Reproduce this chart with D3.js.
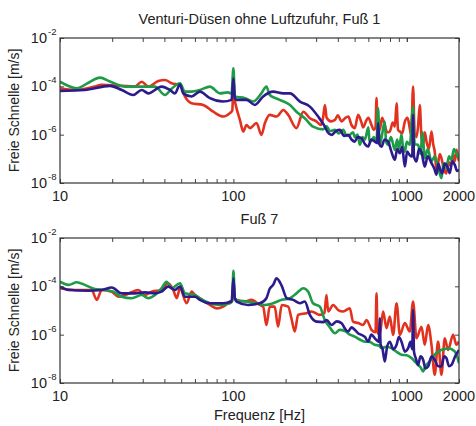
<!DOCTYPE html>
<html>
<head>
<meta charset="utf-8">
<script src="https://cdn.jsdelivr.net/npm/d3@7"></script>
<style>
  html, body { margin: 0; padding: 0; background: #fff; }
  svg { display: block; }
  text { font-family: "Liberation Sans", Arial, sans-serif; fill: #222; }
</style>
</head>
<body>
<svg id="chart" width="476" height="426"></svg>
<script>
// Free vibration velocity spectra, Venturi nozzles without air supply.
// Levels are stored as log10 of the velocity in m/s.

// ---------- Fuß 1 ----------
const f1GreenFreq = [10,12.5,14.6,17,19.4,23.7,30,35.3,40.3,44,49.2,52.5,56.1,64.1,73.2,83.6,92.9,97.6,100,102,116.5,130,145,155,162,185,212,231,258,288,329,345,360,385,405,430,450,469,490,501,520,536,555,573,600,610,626,645,669,683,698,720,746,760,780,810,853,880,900,932,950,974,1000,1040,1087,1110,1161,1200,1230,1270,1320,1388,1450,1515,1584,1630,1692,1750,1810,1870,1934,2000];
const f1GreenLog  = [-3.81,-4.08,-3.85,-3.64,-3.8,-4.01,-4.01,-4.01,-4.36,-4.1,-3.87,-4.22,-4.22,-4.15,-4.01,-4.29,-4.25,-4.3,-3.25,-4.42,-4.49,-4.63,-4.29,-4.01,-4.36,-4.56,-4.77,-5.05,-5.32,-5.67,-5.78,-5.65,-5.85,-5.8,-5.95,-5.8,-6.05,-6.01,-5.9,-6.1,-6.0,-6.42,-6.1,-6.2,-5.7,-6.3,-6.25,-6.1,-6.3,-4.91,-6.42,-6.0,-5.46,-6.3,-6.42,-6.1,-6.63,-6.2,-6.6,-6.0,-6.5,-6.7,-6.3,-6.42,-4.85,-6.4,-6.42,-6.8,-5.9,-6.97,-6.6,-7.1,-6.9,-7.32,-7.8,-7.2,-7.4,-6.9,-7.04,-6.6,-6.77,-6.97];

const f1RedFreq = [10,12.2,15.9,17.4,22.7,27,29.6,32.3,36.9,40.3,44,49.2,52.5,57.4,67,76.5,87.3,95.4,98.5,100,102,104.3,109,114,119,124.5,136,145,152,162,177.5,194,207,231,253,276,302,320,329,337,345,365,385,400,420,440,460,480,501,524,548,560,586,600,626,645,660,669,678,698,720,746,770,798,830,853,873,890,912,940,974,1010,1040,1060,1087,1110,1137,1160,1188,1215,1242,1270,1299,1340,1388,1420,1449,1480,1515,1550,1584,1620,1655,1690,1729,1790,1849,1890,1934,1970,2000];
const f1RedLog  = [-4.08,-4.15,-4.01,-3.94,-3.98,-4.01,-3.81,-4.01,-3.78,-3.74,-3.87,-3.94,-4.42,-4.7,-4.77,-5.05,-5.25,-5.11,-5.0,-4.08,-4.6,-4.91,-5.39,-5.87,-5.6,-5.73,-5.52,-6.01,-5.52,-5.18,-5.25,-4.98,-5.18,-5.73,-5.05,-5.32,-5.46,-5.6,-5.3,-4.77,-5.3,-5.45,-5.39,-5.2,-5.45,-5.32,-5.25,-5.6,-5.73,-5.18,-5.5,-5.7,-5.39,-5.3,-5.6,-5.8,-5.7,-4.49,-5.75,-5.8,-5.3,-5.6,-5.9,-5.87,-5.5,-5.67,-4.7,-5.8,-5.87,-5.95,-5.46,-5.3,-5.73,-6.0,-4.01,-6.0,-6.1,-5.7,-4.77,-6.1,-6.42,-5.9,-6.28,-6.6,-5.87,-6.4,-6.7,-7.4,-7.18,-6.8,-6.97,-7.3,-7.52,-7.6,-7.1,-7.3,-6.83,-7.1,-6.63,-6.9,-7.1];

const f1BlueFreq = [10,13.9,19.4,22.7,26.4,29.6,32.3,38.5,43.1,46,49.2,51.4,57.4,64.1,73.2,87.3,97.6,100,102,104.3,119,133,148.5,169.5,194,212,242,276,308,337,350,368,390,411,435,459,480,501,520,548,575,598,625,654,675,683,695,714,745,780,815,853,880,912,940,974,1005,1040,1075,1087,1100,1137,1175,1215,1245,1270,1320,1388,1440,1483,1520,1549,1600,1655,1710,1769,1830,1891,1950,2000];
const f1BlueLog  = [-4.19,-4.15,-3.98,-4.15,-4.36,-4.15,-4.29,-4.01,-4.15,-4.29,-3.93,-4.29,-4.42,-4.22,-4.49,-4.63,-4.56,-3.67,-4.5,-4.56,-4.56,-4.77,-4.42,-4.22,-4.29,-4.29,-4.63,-4.84,-5.25,-5.67,-5.9,-6.01,-5.85,-5.8,-6.05,-6.01,-6.2,-6.29,-6.1,-6.15,-6.4,-6.49,-6.2,-6.29,-6.35,-5.52,-6.4,-6.5,-6.2,-6.29,-6.7,-7.04,-6.6,-6.77,-6.5,-7.32,-6.7,-6.85,-6.9,-5.18,-6.9,-7.11,-6.6,-6.7,-7.1,-7.32,-6.9,-7.18,-7.4,-7.66,-7.2,-7.38,-7.6,-7.18,-7.3,-7.59,-7.1,-7.25,-7.5,-7.45];

// ---------- Fuß 7 ----------
const f7GreenFreq = [10,11.2,12.5,13.9,15.9,18.2,20.3,22.7,25.9,29.6,32.3,35.3,38.5,41.2,44,49.2,52.5,60,64.1,73.2,83.6,95.4,98.5,100,102,104.3,119,136,152,169.5,190,212,231,253,270,288,315,337,360,385,410,440,470,501,535,573,610,654,690,714,760,816,870,932,1000,1064,1110,1161,1200,1242,1280,1327,1390,1449,1520,1584,1650,1729,1810,1891,1950,2000];
const f7GreenLog  = [-3.81,-3.94,-3.83,-3.94,-4.11,-4.15,-4.22,-4.43,-4.49,-4.36,-4.49,-4.36,-4.08,-3.81,-4.08,-3.87,-4.29,-4.36,-4.5,-4.7,-4.77,-4.7,-4.6,-3.36,-4.5,-4.56,-4.63,-4.7,-4.77,-4.7,-4.56,-4.49,-4.29,-4.08,-4.22,-4.7,-4.84,-5.4,-5.7,-5.94,-5.8,-5.85,-6.0,-6.08,-6.2,-6.29,-6.3,-6.42,-6.45,-6.56,-6.5,-6.56,-6.7,-6.83,-6.85,-6.97,-7.1,-7.25,-7.35,-7.52,-7.3,-7.18,-7.0,-6.83,-6.7,-6.63,-6.6,-6.56,-6.6,-6.7,-6.9,-7.18];

const f7RedFreq = [10,12.2,15.2,16.3,17.4,19.9,21.7,23.7,28.3,30.9,33.8,38.5,42.1,45,47.1,49.2,53.7,57.4,60,64.1,73.2,80,87.3,95.4,98.5,100,102,104.3,116.5,127,142,148.5,155,162,173,181,190,207,216,226,236,264,282,315,335,344,352,376,402,430,469,490,524,560,586,626,660,669,678,698,730,764,798,834,873,912,974,1040,1087,1137,1215,1270,1327,1388,1449,1515,1584,1655,1729,1849,1934,2000];
const f7RedLog  = [-4.08,-4.15,-4.15,-4.56,-4.15,-4.22,-4.43,-4.36,-4.15,-4.36,-4.22,-4.15,-3.87,-4.15,-4.49,-4.08,-4.7,-4.22,-4.36,-4.5,-4.77,-4.91,-4.84,-4.63,-4.6,-3.81,-4.5,-4.56,-4.63,-4.56,-4.77,-4.84,-5.6,-4.84,-4.84,-5.67,-4.77,-4.84,-5.32,-5.87,-5.18,-5.11,-5.04,-5.18,-5.1,-4.36,-5.04,-4.77,-4.98,-5.04,-4.91,-5.46,-5.52,-5.6,-5.39,-5.8,-5.9,-4.29,-5.9,-6.01,-5.04,-5.73,-5.25,-6.01,-4.7,-6.01,-5.52,-5.87,-4.63,-6.15,-5.67,-6.42,-5.6,-6.42,-7.66,-6.28,-7.66,-6.15,-6.63,-6.01,-6.42,-6.28];

const f7BlueFreq = [10,11.2,14.6,17.4,19.9,22.7,27,30.9,35.3,38.5,42.1,46,49.2,52.5,60,64.1,73.2,87.3,97.6,100,102,104.3,121.7,142,155,162,169.5,177.5,190,203,221,242,258,276,302,329,345,368,395,421,440,459,480,501,525,548,575,598,625,654,675,690,698,706,725,746,770,798,835,873,900,932,975,1018,1050,1075,1087,1100,1130,1161,1200,1242,1280,1327,1390,1449,1510,1584,1640,1692,1750,1810,1900,2000];
const f7BlueLog  = [-4.01,-4.15,-4.18,-4.15,-4.05,-4.29,-4.29,-4.25,-4.29,-4.22,-4.01,-4.15,-4.01,-4.43,-4.43,-4.56,-4.7,-4.7,-4.63,-3.67,-4.5,-4.63,-4.77,-4.7,-4.49,-4.1,-3.94,-3.67,-3.98,-4.49,-4.56,-4.7,-4.63,-5.18,-5.46,-5.48,-5.4,-5.6,-5.45,-5.53,-5.75,-5.87,-5.7,-5.8,-5.95,-6.01,-6.1,-6.29,-6.0,-6.15,-6.25,-6.3,-5.32,-6.4,-6.6,-7.11,-6.5,-6.29,-6.6,-6.42,-6.1,-6.29,-6.7,-6.56,-6.3,-6.6,-4.98,-6.7,-7.0,-7.25,-6.9,-7.04,-7.4,-7.32,-6.9,-7.04,-7.3,-7.32,-6.9,-6.97,-7.3,-7.25,-6.9,-6.63];

const xTickValues = [10, 100, 1000, 2000];
const yTickExponents = [-2, -4, -6, -8];

const colors = { red: "#e2321f", green: "#1d9b47", blue: "#2c1b8c" };

const panels = [
  { title: "Venturi-Düsen ohne Luftzufuhr, Fuß 1", top: 38, bottom: 183,
    series: [
      { freq: f1RedFreq, lev: f1RedLog, color: colors.red },
      { freq: f1GreenFreq, lev: f1GreenLog, color: colors.green },
      { freq: f1BlueFreq, lev: f1BlueLog, color: colors.blue }
    ] },
  { title: "Fuß 7", top: 238, bottom: 383, xlabel: "Frequenz [Hz]",
    series: [
      { freq: f7RedFreq, lev: f7RedLog, color: colors.red },
      { freq: f7GreenFreq, lev: f7GreenLog, color: colors.green },
      { freq: f7BlueFreq, lev: f7BlueLog, color: colors.blue }
    ] }
];

const svg = d3.select("#chart");
const left = 60, right = 459;

const x = d3.scaleLog().domain([10, 2000]).range([left, right]);
const minorX = [20,30,40,50,60,70,80,90,200,300,400,500,600,700,800,900,1000];

panels.forEach(p => {
  const y = d3.scaleLog().domain([1e-8, 1e-2]).range([p.bottom, p.top]);
  const g = svg.append("g");

  // title
  g.append("text")
    .attr("x", (left + right) / 2).attr("y", p.top - 14)
    .attr("text-anchor", "middle").attr("font-size", 14.5)
    .text(p.title);

  // data lines
  const clipId = "clip" + p.top;
  g.append("clipPath").attr("id", clipId)
    .append("rect").attr("x", left).attr("y", p.top)
    .attr("width", right - left).attr("height", p.bottom - p.top);

  const line = d3.line().x(d => x(d[0])).y(d => y(d[1])).curve(d3.curveMonotoneX);
  p.series.forEach(s => {
    const pts = s.freq.map((f, i) => [f, Math.pow(10, s.lev[i])]);
    g.append("path")
      .attr("clip-path", `url(#${clipId})`)
      .attr("d", line(pts))
      .attr("fill", "none")
      .attr("stroke", s.color)
      .attr("stroke-width", 2.6)
      .attr("stroke-linejoin", "round");
  });

  // axes: ticks pointing inward
  const tickLen = 4;
  const xb = d3.axisBottom(x).tickValues(minorX.concat(xTickValues)).tickSize(-tickLen).tickFormat("");
  const xt = d3.axisTop(x).tickValues(minorX.concat(xTickValues)).tickSize(-tickLen).tickFormat("");
  const yVals = yTickExponents.map(e => Math.pow(10, e));
  const yl = d3.axisLeft(y).tickValues(yVals).tickSize(-tickLen).tickFormat("");
  const yr = d3.axisRight(y).tickValues(yVals).tickSize(-tickLen).tickFormat("");

  [[xb, `translate(0,${p.bottom})`], [xt, `translate(0,${p.top})`],
   [yl, `translate(${left},0)`], [yr, `translate(${right},0)`]].forEach(([ax, tr]) => {
    const a = g.append("g").attr("transform", tr).call(ax);
    a.select(".domain").remove();
    a.selectAll("line").attr("stroke", "#444").attr("stroke-width", 1);
  });

  // frame
  g.append("rect")
    .attr("x", left).attr("y", p.top)
    .attr("width", right - left).attr("height", p.bottom - p.top)
    .attr("fill", "none").attr("stroke", "#333").attr("stroke-width", 1.2);

  // x tick labels
  g.selectAll(".xl").data(xTickValues).enter().append("text")
    .attr("x", d => x(d)).attr("y", p.bottom + 18)
    .attr("text-anchor", "middle").attr("font-size", 14.5)
    .text(d => d);

  // y tick labels 10^n
  yTickExponents.forEach(e => {
    g.append("text")
      .attr("x", 47).attr("y", y(Math.pow(10, e)) + 5)
      .attr("text-anchor", "end").attr("font-size", 14.5)
      .text("10");
    g.append("text")
      .attr("x", 48).attr("y", y(Math.pow(10, e)) - 3)
      .attr("font-size", 9.5)
      .text(String(e));
  });

  // y axis label
  g.append("text")
    .attr("transform", `translate(19,${(p.top + p.bottom) / 2}) rotate(-90)`)
    .attr("text-anchor", "middle").attr("font-size", 14)
    .text("Freie Schnelle [m/s]");

  if (p.xlabel) {
    g.append("text")
      .attr("x", (left + right) / 2).attr("y", p.bottom + 37)
      .attr("text-anchor", "middle").attr("font-size", 14.5)
      .text(p.xlabel);
  }
});
</script>
</body>
</html>
